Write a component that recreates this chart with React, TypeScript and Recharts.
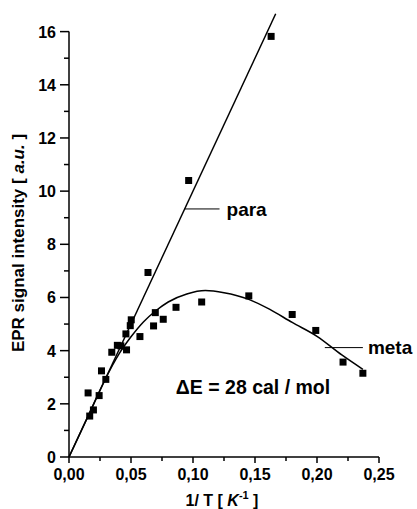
import React from "react";
import {
  ComposedChart,
  Line,
  Scatter,
  XAxis,
  YAxis,
  ReferenceLine,
  ReferenceDot,
} from "recharts";

// measured points, para isomer
const paraX = [0.0154, 0.0262, 0.0345, 0.039, 0.0459, 0.0494, 0.0502, 0.0637, 0.0965, 0.163];
const paraY = [2.41, 3.24, 3.94, 4.2, 4.63, 4.94, 5.16, 6.94, 10.4, 15.82];

// measured points, meta isomer
const metaX = [0.0167, 0.0197, 0.0243, 0.0297, 0.0418, 0.0464, 0.0572, 0.0682, 0.0696, 0.076, 0.0863, 0.107, 0.145, 0.18, 0.199, 0.221, 0.237];
const metaY = [1.54, 1.77, 2.31, 2.92, 4.18, 4.03, 4.53, 4.93, 5.43, 5.18, 5.63, 5.83, 6.06, 5.36, 4.76, 3.57, 3.15];

// fitted curves
const paraFitX = [0, 0.1667];
const paraFitY = [0, 16.67];
const metaFitX = [0, 0.015, 0.03, 0.04, 0.05, 0.06, 0.07, 0.08, 0.095, 0.11, 0.125, 0.145, 0.162, 0.18, 0.2, 0.22, 0.237];
const metaFitY = [0, 1.5, 3.0, 3.85, 4.52, 5.08, 5.5, 5.83, 6.13, 6.26, 6.18, 5.93, 5.55, 5.06, 4.54, 3.84, 3.3];

const xTicks = [0, 0.025, 0.05, 0.075, 0.1, 0.125, 0.15, 0.175, 0.2, 0.225, 0.25];
const xTickLabels = ["0,00", "0,05", "0,10", "0,15", "0,20", "0,25"];
const yTicks = [0, 1, 2, 3, 4, 5, 6, 7, 8, 9, 10, 11, 12, 13, 14, 15, 16];

const zip = (xs: number[], ys: number[]) => xs.map((x, i) => ({ x, y: ys[i] }));
const paraPts = zip(paraX, paraY);
const metaPts = zip(metaX, metaY);
const paraFit = zip(paraFitX, paraFitY);
const metaFit = zip(metaFitX, metaFitY);

const FONT = "'Liberation Sans', Arial, sans-serif";

const XTick = (props: any) => {
  const { x, y, index } = props;
  const major = index % 2 === 0;
  return (
    <g>
      <line x1={x} x2={x} y1={y} y2={y + (major ? 6 : 4)} stroke="#000" strokeWidth={1.5} />
      {major && (
        <text x={x} y={y + 23} textAnchor="middle" fontFamily={FONT} fontWeight="bold" fontSize={16} fill="#000">
          {xTickLabels[index / 2]}
        </text>
      )}
    </g>
  );
};

const YTick = (props: any) => {
  const { x, y, payload } = props;
  const major = payload.value % 2 === 0;
  return (
    <g>
      <line x1={x - (major ? 9 : 5)} x2={x} y1={y} y2={y} stroke="#000" strokeWidth={1.5} />
      {major && (
        <text x={x - 13} y={y + 6} textAnchor="end" fontFamily={FONT} fontWeight="bold" fontSize={16} fill="#000">
          {payload.value}
        </text>
      )}
    </g>
  );
};

const Square = (props: any) => {
  const { cx, cy } = props;
  return <rect x={cx - 3.5} y={cy - 3.5} width={7} height={7} fill="#000" />;
};

const YLabel = (props: any) => {
  const { viewBox } = props;
  const cx = 18;
  const cy = viewBox.y + viewBox.height / 2 + 8;
  return (
    <text
      x={cx}
      y={cy}
      transform={`rotate(-90 ${cx} ${cy})`}
      textAnchor="middle"
      dominantBaseline="central"
      fontFamily={FONT}
      fontWeight="bold"
      fontSize={17}
      fill="#000"
    >
      EPR signal intensity [ <tspan fontStyle="italic">a.u.</tspan> ]
    </text>
  );
};

const XLabel = (props: any) => {
  const { viewBox } = props;
  const cx = viewBox.x + viewBox.width / 2 - 2;
  return (
    <text x={cx} y={506} textAnchor="middle" fontFamily={FONT} fontWeight="bold" fontSize={16} fill="#000">
      1/ T [ <tspan fontStyle="italic">K</tspan>
      <tspan fontSize={11} dy={-7}>-1</tspan>
      <tspan dy={7}> ]</tspan>
    </text>
  );
};

const labelStyle = { fontFamily: FONT, fontWeight: "bold", fontSize: 19, fill: "#000" };

export default function App() {
  return (
    <div style={{ position: "absolute", left: 0, top: 0, background: "#fff" }}>
      <ComposedChart width={417} height={509} margin={{ top: 13, right: 38, left: 0, bottom: 0 }}>
        <XAxis
          type="number"
          dataKey="x"
          domain={[0, 0.25]}
          ticks={xTicks}
          interval={0}
          tick={<XTick />}
          tickLine={false}
          tickSize={0}
          tickMargin={0}
          height={52}
          stroke="#000"
          strokeWidth={1.5}
          label={<XLabel />}
        />
        <YAxis
          type="number"
          dataKey="y"
          domain={[0, 16.7]}
          ticks={yTicks}
          interval={0}
          tick={<YTick />}
          tickLine={false}
          axisLine={false}
          tickSize={0}
          tickMargin={0}
          width={69}
          label={<YLabel />}
        />
        <ReferenceLine segment={[{ x: 0, y: 0 }, { x: 0, y: 16 }]} stroke="#000" strokeWidth={1.5} ifOverflow="visible" />
        <Line data={paraFit} dataKey="y" type="linear" stroke="#000" strokeWidth={1.5} dot={false} isAnimationActive={false} />
        <Line data={metaFit} dataKey="y" type="monotone" stroke="#000" strokeWidth={1.5} dot={false} isAnimationActive={false} />
        <Scatter data={paraPts} dataKey="y" shape={<Square />} isAnimationActive={false} />
        <Scatter data={metaPts} dataKey="y" shape={<Square />} isAnimationActive={false} />
        <ReferenceLine
          segment={[{ x: 0.093, y: 9.33 }, { x: 0.1214, y: 9.33 }]}
          stroke="#000"
          strokeWidth={1}
          label={{ value: "para", position: "right", offset: 7, ...labelStyle }}
        />
        <ReferenceLine
          segment={[{ x: 0.2063, y: 4.115 }, { x: 0.237, y: 4.115 }]}
          stroke="#000"
          strokeWidth={1}
          ifOverflow="visible"
          label={{ value: "meta", position: "right", offset: 5, ...labelStyle }}
        />
        <ReferenceDot
          x={0.1484}
          y={2.62}
          r={0}
          fill="none"
          stroke="none"
          label={{ value: "\u0394E = 28 cal / mol", position: "center", ...labelStyle, fontSize: 19.5 }}
        />
      </ComposedChart>
    </div>
  );
}
